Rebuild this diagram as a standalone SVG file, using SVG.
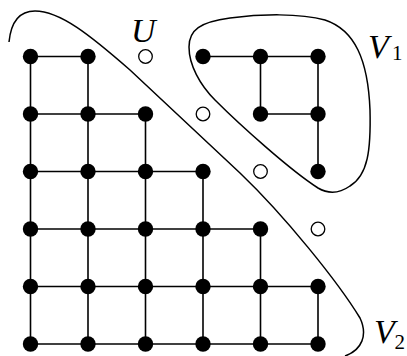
<svg xmlns="http://www.w3.org/2000/svg" width="407" height="356" viewBox="0 0 407 356">
<style>
.e{stroke:#000;stroke-width:1.6;fill:none}
.b{fill:#000}
.o{fill:#fff;stroke:#000;stroke-width:1.3}
.c{fill:none;stroke:#000;stroke-width:1.5}
.lab{font-family:"Liberation Serif",serif;font-style:italic;font-size:34px;fill:#000}
.sub{font-family:"Liberation Serif",serif;font-size:21px;fill:#000}
</style>
<rect width="407" height="356" fill="#fff"/>
<g id="regions">
<path id="boundary-V2" class="c" d="M 9 42 C 11 22, 20 11, 35 11 C 60 11, 90 35, 130 70 L 240 173 C 285 216, 338 282, 360 318 C 368 335, 362 350, 345 356"/>
<path id="boundary-V1" class="c" d="M 189 47 C 189 30, 200 22, 230 18 C 260 14, 300 13, 325 20 C 355 30, 368 60, 370 110 C 371 150, 368 175, 350 186 C 340 193, 330 195, 318 188 C 290 170, 240 125, 215 100 C 200 85, 189 65, 189 47 Z"/>
</g>
<g id="connectors">
<line class="e" x1="30.5" y1="56.5" x2="88" y2="56.5"/>
<line class="e" x1="30.5" y1="114" x2="88" y2="114"/>
<line class="e" x1="88" y1="114" x2="145.5" y2="114"/>
<line class="e" x1="30.5" y1="171.5" x2="88" y2="171.5"/>
<line class="e" x1="88" y1="171.5" x2="145.5" y2="171.5"/>
<line class="e" x1="145.5" y1="171.5" x2="203" y2="171.5"/>
<line class="e" x1="30.5" y1="229" x2="88" y2="229"/>
<line class="e" x1="88" y1="229" x2="145.5" y2="229"/>
<line class="e" x1="145.5" y1="229" x2="203" y2="229"/>
<line class="e" x1="203" y1="229" x2="260.5" y2="229"/>
<line class="e" x1="30.5" y1="286.5" x2="88" y2="286.5"/>
<line class="e" x1="88" y1="286.5" x2="145.5" y2="286.5"/>
<line class="e" x1="145.5" y1="286.5" x2="203" y2="286.5"/>
<line class="e" x1="203" y1="286.5" x2="260.5" y2="286.5"/>
<line class="e" x1="260.5" y1="286.5" x2="318" y2="286.5"/>
<line class="e" x1="30.5" y1="344" x2="88" y2="344"/>
<line class="e" x1="88" y1="344" x2="145.5" y2="344"/>
<line class="e" x1="145.5" y1="344" x2="203" y2="344"/>
<line class="e" x1="203" y1="344" x2="260.5" y2="344"/>
<line class="e" x1="260.5" y1="344" x2="318" y2="344"/>
<line class="e" x1="30.5" y1="56.5" x2="30.5" y2="114"/>
<line class="e" x1="30.5" y1="114" x2="30.5" y2="171.5"/>
<line class="e" x1="30.5" y1="171.5" x2="30.5" y2="229"/>
<line class="e" x1="30.5" y1="229" x2="30.5" y2="286.5"/>
<line class="e" x1="30.5" y1="286.5" x2="30.5" y2="344"/>
<line class="e" x1="88" y1="56.5" x2="88" y2="114"/>
<line class="e" x1="88" y1="114" x2="88" y2="171.5"/>
<line class="e" x1="88" y1="171.5" x2="88" y2="229"/>
<line class="e" x1="88" y1="229" x2="88" y2="286.5"/>
<line class="e" x1="88" y1="286.5" x2="88" y2="344"/>
<line class="e" x1="145.5" y1="114" x2="145.5" y2="171.5"/>
<line class="e" x1="145.5" y1="171.5" x2="145.5" y2="229"/>
<line class="e" x1="145.5" y1="229" x2="145.5" y2="286.5"/>
<line class="e" x1="145.5" y1="286.5" x2="145.5" y2="344"/>
<line class="e" x1="203" y1="171.5" x2="203" y2="229"/>
<line class="e" x1="203" y1="229" x2="203" y2="286.5"/>
<line class="e" x1="203" y1="286.5" x2="203" y2="344"/>
<line class="e" x1="260.5" y1="229" x2="260.5" y2="286.5"/>
<line class="e" x1="260.5" y1="286.5" x2="260.5" y2="344"/>
<line class="e" x1="318" y1="286.5" x2="318" y2="344"/>
<line class="e" x1="203" y1="56.5" x2="260.5" y2="56.5"/>
<line class="e" x1="260.5" y1="56.5" x2="318" y2="56.5"/>
<line class="e" x1="260.5" y1="56.5" x2="260.5" y2="114"/>
<line class="e" x1="318" y1="56.5" x2="318" y2="114"/>
<line class="e" x1="260.5" y1="114" x2="318" y2="114"/>
<line class="e" x1="318" y1="114" x2="318" y2="171.5"/>
</g>
<g id="nodes-V2">
<g id="v2-0-0"><circle class="b" cx="30.5" cy="56.5" r="7.7"/></g>
<g id="v2-1-0"><circle class="b" cx="88" cy="56.5" r="7.7"/></g>
<g id="v2-0-1"><circle class="b" cx="30.5" cy="114" r="7.7"/></g>
<g id="v2-1-1"><circle class="b" cx="88" cy="114" r="7.7"/></g>
<g id="v2-2-1"><circle class="b" cx="145.5" cy="114" r="7.7"/></g>
<g id="v2-0-2"><circle class="b" cx="30.5" cy="171.5" r="7.7"/></g>
<g id="v2-1-2"><circle class="b" cx="88" cy="171.5" r="7.7"/></g>
<g id="v2-2-2"><circle class="b" cx="145.5" cy="171.5" r="7.7"/></g>
<g id="v2-3-2"><circle class="b" cx="203" cy="171.5" r="7.7"/></g>
<g id="v2-0-3"><circle class="b" cx="30.5" cy="229" r="7.7"/></g>
<g id="v2-1-3"><circle class="b" cx="88" cy="229" r="7.7"/></g>
<g id="v2-2-3"><circle class="b" cx="145.5" cy="229" r="7.7"/></g>
<g id="v2-3-3"><circle class="b" cx="203" cy="229" r="7.7"/></g>
<g id="v2-4-3"><circle class="b" cx="260.5" cy="229" r="7.7"/></g>
<g id="v2-0-4"><circle class="b" cx="30.5" cy="286.5" r="7.7"/></g>
<g id="v2-1-4"><circle class="b" cx="88" cy="286.5" r="7.7"/></g>
<g id="v2-2-4"><circle class="b" cx="145.5" cy="286.5" r="7.7"/></g>
<g id="v2-3-4"><circle class="b" cx="203" cy="286.5" r="7.7"/></g>
<g id="v2-4-4"><circle class="b" cx="260.5" cy="286.5" r="7.7"/></g>
<g id="v2-5-4"><circle class="b" cx="318" cy="286.5" r="7.7"/></g>
<g id="v2-0-5"><circle class="b" cx="30.5" cy="344" r="7.7"/></g>
<g id="v2-1-5"><circle class="b" cx="88" cy="344" r="7.7"/></g>
<g id="v2-2-5"><circle class="b" cx="145.5" cy="344" r="7.7"/></g>
<g id="v2-3-5"><circle class="b" cx="203" cy="344" r="7.7"/></g>
<g id="v2-4-5"><circle class="b" cx="260.5" cy="344" r="7.7"/></g>
<g id="v2-5-5"><circle class="b" cx="318" cy="344" r="7.7"/></g>
</g>
<g id="nodes-V1">
<g id="v1-3-0"><circle class="b" cx="203" cy="56.5" r="7.7"/></g>
<g id="v1-4-0"><circle class="b" cx="260.5" cy="56.5" r="7.7"/></g>
<g id="v1-5-0"><circle class="b" cx="318" cy="56.5" r="7.7"/></g>
<g id="v1-4-1"><circle class="b" cx="260.5" cy="114" r="7.7"/></g>
<g id="v1-5-1"><circle class="b" cx="318" cy="114" r="7.7"/></g>
<g id="v1-5-2"><circle class="b" cx="318" cy="171.5" r="7.7"/></g>
</g>
<g id="nodes-U">
<g id="u-2-0"><circle class="o" cx="145.5" cy="56.5" r="6.8"/></g>
<g id="u-3-1"><circle class="o" cx="203" cy="114" r="6.8"/></g>
<g id="u-4-2"><circle class="o" cx="260.5" cy="171.5" r="6.8"/></g>
<g id="u-5-3"><circle class="o" cx="318" cy="229" r="6.8"/></g>
</g>
<g id="labels">
<text class="lab" x="131" y="42">U</text>
<text class="lab" x="368" y="58">V<tspan class="sub" x="392" y="60" style="font-style:normal">1</tspan></text>
<text class="lab" x="374" y="343">V<tspan class="sub" x="394.5" y="349" style="font-style:normal">2</tspan></text>
</g>
</svg>
